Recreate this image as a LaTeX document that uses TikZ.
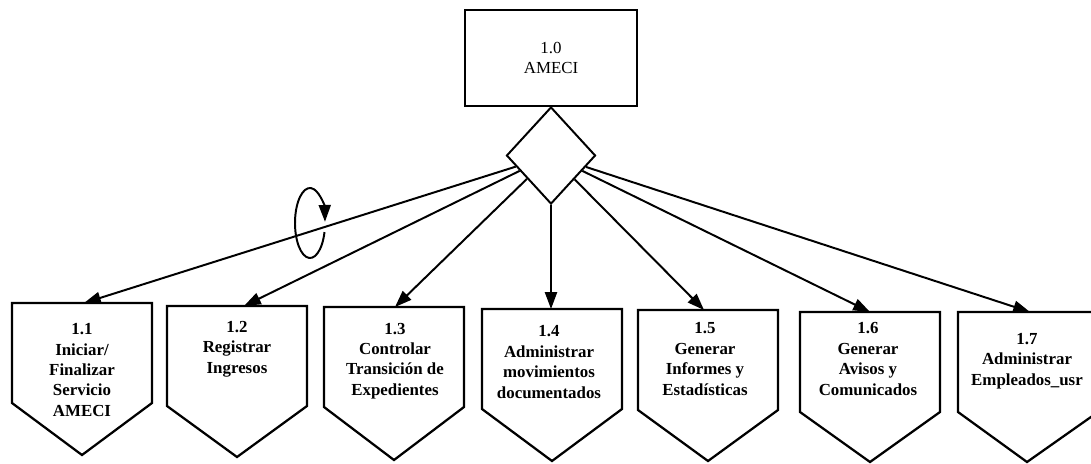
\documentclass[tikz,border=0pt]{standalone}
\usepackage{amsmath,amsfonts,graphicx}
\usepackage{xcolor}
\usepackage{tikz}
\usepackage{fontspec}
\setmainfont{Liberation Serif}
\usetikzlibrary{shapes.geometric,arrows.meta}

\begin{document}
\begin{tikzpicture}[x=0.025cm,y=-0.025cm,
    pent/.style={line width=1.6pt,line join=miter},
    arr/.style={line width=1.4pt,-{Triangle[length=0.42cm,width=0.3cm]}},
    lbl/.style={align=center,inner sep=0pt,font=\fontsize{12}{14.5}\selectfont\bfseries}]
    \useasboundingbox (0,0) rectangle (1091,463);
    \node[draw,line width=1.4pt,minimum width=4.3cm,minimum height=2.4cm,align=center,font=\fontsize{12}{14.5}\selectfont] (10) at (551,58) {1.0\\AMECI};
    \node[draw,diamond,line width=1.4pt,inner sep=0pt,minimum width=2.225cm,minimum height=2.425cm] (d) at (551,155.5) {};
    % cajas de procesos
    \draw[pent] (12,303) -- (152,303) -- (152,403) -- (82,455) -- (12,403) -- cycle;
    \draw[pent] (167,306) -- (307,306) -- (307,406) -- (237,457) -- (167,406) -- cycle;
    \draw[pent] (324,307) -- (464,307) -- (464,407) -- (394,460) -- (324,407) -- cycle;
    \draw[pent] (482,309) -- (622,309) -- (622,409) -- (552,461) -- (482,409) -- cycle;
    \draw[pent] (638,310) -- (778,310) -- (778,410) -- (708,461) -- (638,410) -- cycle;
    \draw[pent] (800,312) -- (940,312) -- (940,412) -- (870,462) -- (800,412) -- cycle;
    \draw[pent] (958,312) -- (1098,312) -- (1098,412) -- (1027,462) -- (958,412) -- cycle;
    \coordinate (t11) at (84,303);
    \coordinate (t12) at (244,306);
    \coordinate (t13) at (395,307);
    \coordinate (t14) at (551,309);
    \coordinate (t15) at (704,310);
    \coordinate (t16) at (870,312);
    \coordinate (t17) at (1030,312);
    \node[lbl] (11) at (82,370) {1.1\\Iniciar/\\Finalizar\\Servicio\\AMECI};
    \node[lbl] (12) at (237,349) {1.2\\Registrar\\Ingresos};
    \node[lbl] (13) at (395,361) {1.3\\Controlar\\Transición de\\Expedientes};
    \node[lbl] (14) at (549,362) {1.4\\Administrar\\movimientos\\documentados};
    \node[lbl] (15) at (705,359) {1.5\\Generar\\Informes y\\Estadísticas};
    \node[lbl] (16) at (868,359) {1.6\\Generar\\Avisos y\\Comunicados};
    \node[lbl] (17) at (1027,361) {1.7\\Administrar\\Empleados\_usr};
    % flechas
    \draw[arr] (d) -- (t11);
    \draw[arr] (d) -- (t12);
    \draw[arr] (d) -- (t13);
    \draw[arr] (d) -- (t14);
    \draw[arr] (d) -- (t15);
    \draw[arr] (d) -- (t16);
    \draw[arr] (d) -- (t17);
    % ciclo
    \coordinate (c) at (310,223);
    \draw[arr] ([shift={(15:15 and 35)}]c) arc[start angle=15,end angle=358,x radius=15,y radius=35];
\end{tikzpicture}
\end{document}
